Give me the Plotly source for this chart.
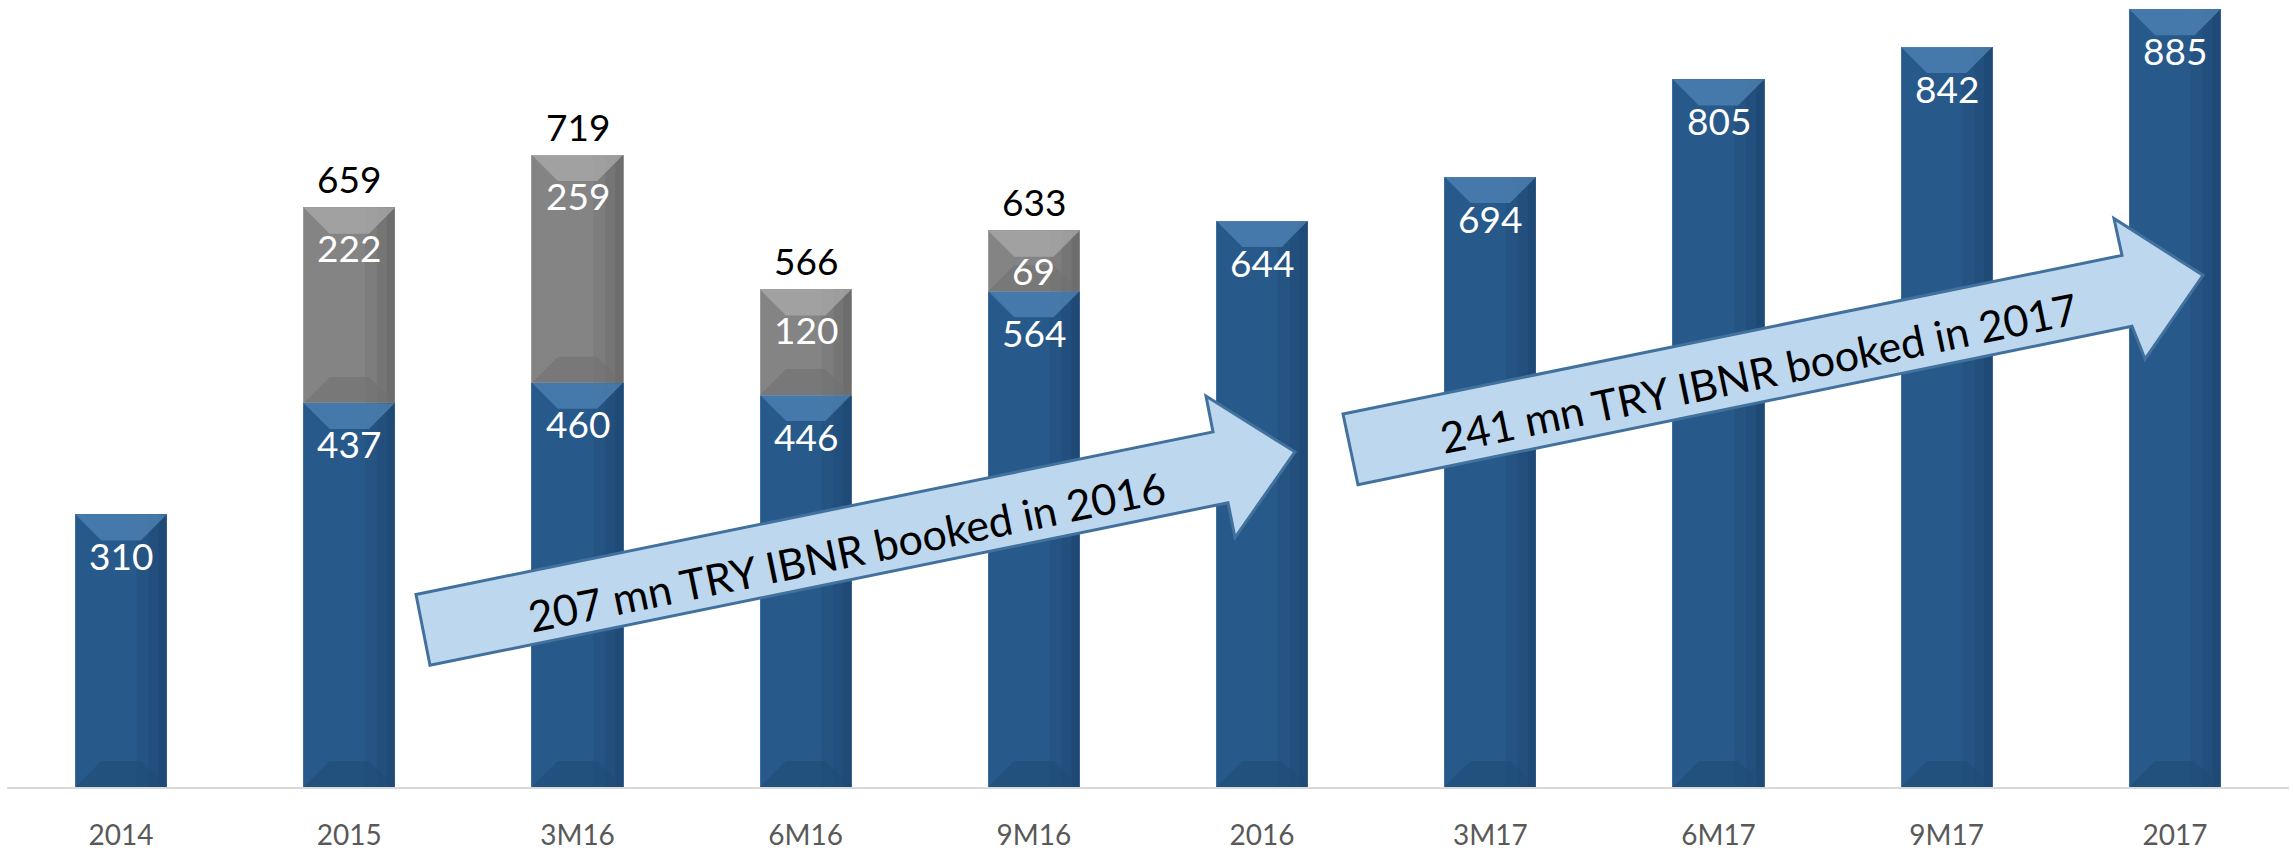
import plotly.graph_objects as go

categories = ["2014", "2015", "3M16", "6M16", "9M16", "2016", "3M17", "6M17", "9M17", "2017"]
base_values = [310, 437, 460, 446, 564, 644, 694, 805, 842, 885]
ibnr_values = [None, 222, 259, 120, 69, None, None, None, None, None]
total_values = [None, 659, 719, 566, 633, None, None, None, None, None]
arrow_texts = ["207 mn TRY IBNR booked in 2016", "241 mn TRY IBNR booked in 2017"]

W, H = 2293, 851
ML, MR, MT, MB = 7, 4, 0, 62
PW, PH = W - ML - MR, H - MT - MB
YMAX = 895.5

BLUE = "#27598a"
BLUE_TOP = "#5284b6"
BLUE_BOT = "#1f4a75"
GRAY = "#848484"
GRAY_TOP = "#ababab"
GRAY_BOT = "#707070"
FONT = "Lato"

idx = list(range(len(categories)))

fig = go.Figure()
fig.add_trace(go.Bar(x=idx, y=base_values, marker=dict(color=BLUE, line=dict(color="#3d6d9c", width=1)),
                     hoverinfo="skip", showlegend=False))
fig.add_trace(go.Bar(x=idx, y=ibnr_values, marker=dict(color=GRAY, line=dict(color="#9a9a9a", width=1)),
                     hoverinfo="skip", showlegend=False))

half = 0.4 * PW / len(categories) / 2.0
d = 26

def bevel(i, top, bottom, ctop, cbot, cside):
    shapes = []
    hpx = (top - bottom) * PH / YMAX
    dd = min(d, hpx / 2.0)
    common = dict(type="path", xref="x", yref="y", xsizemode="pixel", ysizemode="pixel",
                  xanchor=i, layer="above", line=dict(width=0))
    # soft darker shading toward the right edge
    for w, op in [(30, 0.10), (18, 0.12), (8, 0.15)]:
        shapes.append(dict(common, yanchor=top,
                           path=f"M {half-w},0 L {half},0 L {half},{-hpx} L {half-w},{-hpx} Z",
                           fillcolor=cside, opacity=op))
    # top bevel (lighter)
    shapes.append(dict(common, yanchor=top,
                       path=f"M {-half},0 L {half},0 L {half-dd},{-dd} L {-half+dd},{-dd} Z",
                       fillcolor=ctop, opacity=0.75))
    # bottom bevel (darker)
    shapes.append(dict(common, yanchor=bottom,
                       path=f"M {-half},0 L {half},0 L {half-dd},{dd} L {-half+dd},{dd} Z",
                       fillcolor=cbot, opacity=0.55))
    return shapes

shapes = []
annotations = []
for i in idx:
    b = base_values[i]
    shapes += bevel(i, b, 0, BLUE_TOP, BLUE_BOT, "#12304f")
    annotations.append(dict(x=i, y=b, xref="x", yref="y", text=str(b), showarrow=False,
                            yanchor="middle", yshift=-41, font=dict(family=FONT, size=37, color="white")))
    g = ibnr_values[i]
    if g is not None:
        t = b + g
        shapes += bevel(i, t, b, GRAY_TOP, GRAY_BOT, "#444444")
        annotations.append(dict(x=i, y=t, xref="x", yref="y", text=str(g), showarrow=False,
                                yanchor="middle", yshift=-40, font=dict(family=FONT, size=37, color="white")))
    tv = total_values[i]
    if tv is not None:
        annotations.append(dict(x=i, y=tv, xref="x", yref="y", text=str(tv), showarrow=False,
                                yanchor="middle", yshift=29, font=dict(family=FONT, size=37, color="black")))

def to_paper(px, py):
    return (px - ML) / PW, (MT + PH - py) / PH

arrows_px = [
    [(416, 596), (1213, 433), (1206, 397), (1295, 453), (1235, 539), (1228, 504), (430, 667)],
    [(1343, 415), (2122, 256), (2114, 219), (2203, 276), (2145, 360), (2132, 327), (1358, 486)],
]
text_centers_px = [(846, 553), (1759, 373)]

for pts, txt, (cx, cy) in zip(arrows_px, arrow_texts, text_centers_px):
    pp = [to_paper(x, y) for x, y in pts]
    path = "M " + " L ".join(f"{x:.5f},{y:.5f}" for x, y in pp) + " Z"
    shapes.append(dict(type="path", xref="paper", yref="paper", path=path, fillcolor="#bdd7ee",
                       line=dict(color="#41719c", width=3), layer="above"))
    ax, ay = to_paper(cx, cy)
    annotations.append(dict(x=ax, y=ay, xref="paper", yref="paper", text=txt, showarrow=False,
                            textangle=-11.6, xanchor="center", yanchor="middle",
                            font=dict(family=FONT, size=43, color="black")))

fig.update_layout(
    width=W, height=H,
    margin=dict(l=ML, r=MR, t=MT, b=MB),
    barmode="stack", bargap=0.6,
    plot_bgcolor="white", paper_bgcolor="white",
    shapes=shapes, annotations=annotations,
    xaxis=dict(type="linear", range=[-0.5, len(categories) - 0.5], autorange=False,
               tickmode="array", tickvals=idx, ticktext=categories,
               showgrid=False, zeroline=False, showline=True, linecolor="#d9d9d9", linewidth=2,
               ticks="", tickfont=dict(family=FONT, size=28, color="#595959"), ticklabelstandoff=22),
    yaxis=dict(range=[0, YMAX], autorange=False, visible=False, showgrid=False),
)

fig.write_html("out.html")
